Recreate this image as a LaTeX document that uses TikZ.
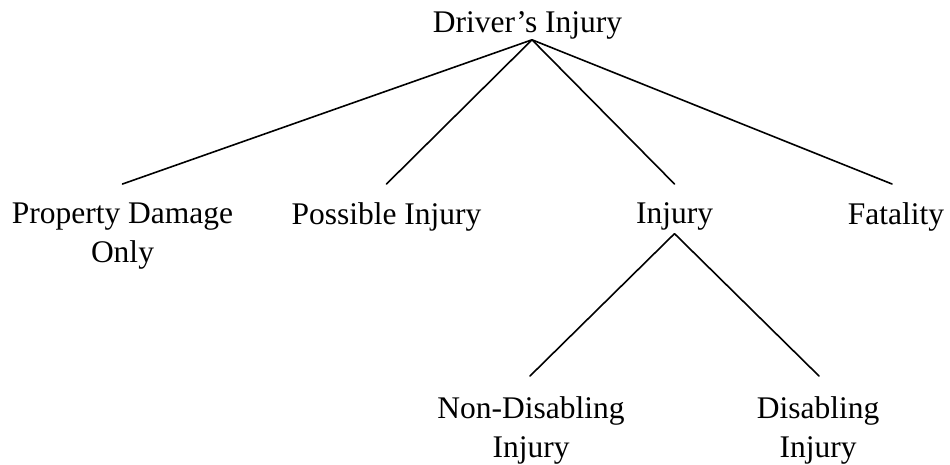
\documentclass[tikz,border=0pt]{standalone}
\usepackage{fontspec}
\setmainfont{Liberation Serif}
\begin{document}
\begin{tikzpicture}[x=1pt,y=-1pt,
  label/.style={inner sep=0pt,outer sep=0pt,align=center,anchor=north,
    font=\fontsize{31.5}{39}\selectfont},
  branch/.style={line width=1.6pt,line cap=round}]
\useasboundingbox (0,0) rectangle (950,464);

% category labels
\node[label,anchor=base] (root) at (527.5,32) {Driver’s Injury};
\node[label] (pdo)   at (122.5,203) {Property Damage\\Only};
\node[label] (poss)  at (386.5,203) {Possible Injury};
\node[label] (inj)   at (674.5,203) {Injury};
\node[label] (fat)   at (896,203)   {Fatality};
\node[label] (nondis) at (531,397)  {Non-Disabling\\Injury};
\node[label] (dis)    at (818,397)  {Disabling\\Injury};

% top-level branches
\coordinate (apex) at ([xshift=4.5pt,yshift=-1pt]root.south);
\draw[branch] (apex) -- ([yshift=19pt]pdo.north);
\draw[branch] (apex) -- ([yshift=19pt]poss.north);
\draw[branch] (apex) -- ([yshift=19pt]inj.north);
\draw[branch] (apex) -- ([xshift=-4pt,yshift=19pt]fat.north);

% injury sub-branches
\coordinate (injapex) at ([yshift=-3pt]inj.south);
\draw[branch] (injapex) -- ([xshift=-1pt,yshift=21pt]nondis.north);
\draw[branch] (injapex) -- ([xshift=1pt,yshift=21pt]dis.north);
\end{tikzpicture}
\end{document}
